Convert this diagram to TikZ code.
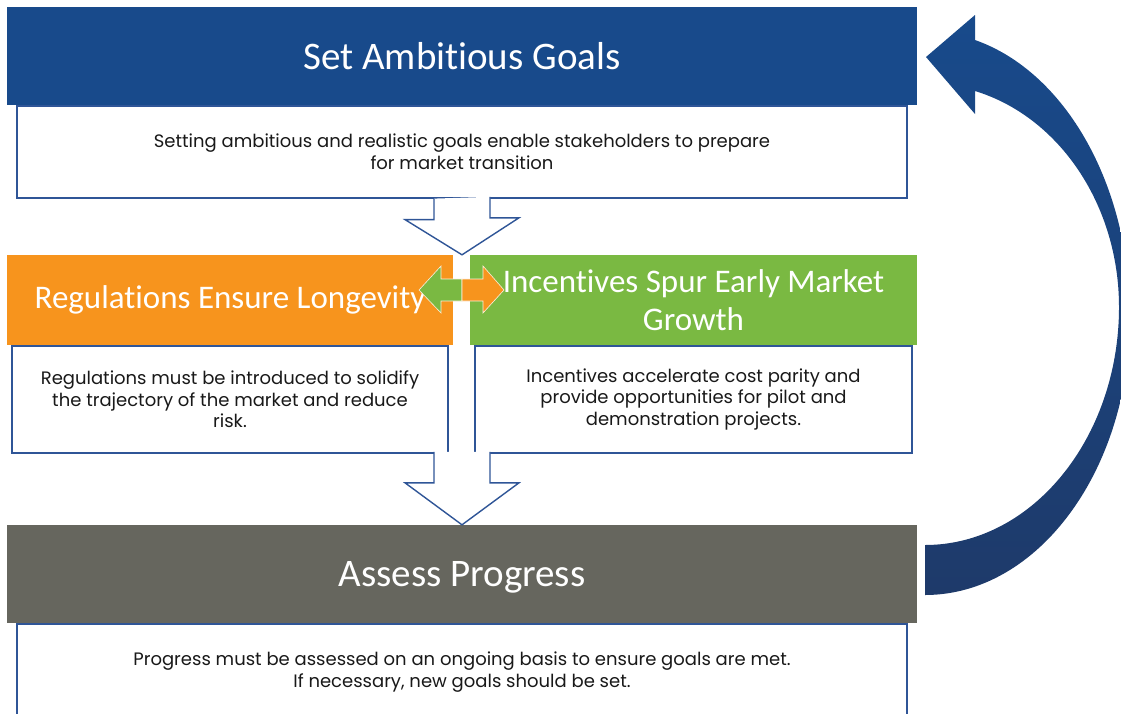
\documentclass[tikz,border=0pt]{standalone}
\usepackage{fontspec}
\setmainfont{Poppins}
\newfontfamily\hdrfont[Ligatures = NoCommon]{Carlito}
\usetikzlibrary{positioning,calc}
\definecolor{goalblue}{RGB}{24,74,139}
\definecolor{arcnavy}{RGB}{30,58,106}
\definecolor{regorange}{RGB}{247,148,29}
\definecolor{incgreen}{RGB}{122,185,66}
\definecolor{assessgray}{RGB}{102,102,94}
\definecolor{edgeblue}{RGB}{47,85,151}
\tikzset{
	header/.style = {rectangle, text = white, inner sep = 0pt, align = center, font = \hdrfont\fontsize{39}{44}\selectfont},
	subheader/.style = {header, minimum width = 446pt, minimum height = 90pt, font = \hdrfont\fontsize{33}{38}\selectfont},
	bodybox/.style = {draw = edgeblue, line width = 1.4pt, fill = white, align = center, inner sep = 0pt, text = black!90, font = \fontsize{18}{21.5}\selectfont},
	hollow/.style = {draw = edgeblue, line width = 1.4pt, fill = white, line join = miter},
	swap/.style = {draw = white!85!regorange, line width = 0.6pt}
}
\begin{document}
\begin{tikzpicture}[x = 1pt, y = -1pt]
	\useasboundingbox (0,0) rectangle (1121,713);
	\clip (0,0) rectangle (1121,713);

	\node (goals)[header, fill = goalblue, minimum width = 910pt, minimum height = 98pt] at (462,56) {Set Ambitious Goals};
	\node (goalsbody)[bodybox, anchor = north, minimum width = 890pt, minimum height = 92pt] at (goals.south) {
		Setting ambitious and realistic goals enable stakeholders to prepare\\
		for market transition};

	\node (reg)[subheader, fill = regorange] at (230,300) {Regulations Ensure Longevity};
	\node (inc)[subheader, fill = incgreen, minimum width = 447pt] at (693.5,300) {Incentives Spur Early Market\\Growth};
	\node (regbody)[bodybox, anchor = north, minimum width = 436pt, minimum height = 107pt] at (reg.south) {
		Regulations must be introduced to solidify\\
		the trajectory of the market and reduce\\
		risk.};
	\node (incbody)[bodybox, anchor = north, minimum width = 437pt, minimum height = 107pt] at (inc.south) {
		Incentives accelerate cost parity and\\
		provide opportunities for pilot and\\
		demonstration projects.};

	\node (assess)[header, fill = assessgray, minimum width = 910pt, minimum height = 98pt, text depth = 0pt] at (462,574) {Assess Progress};
	\node (assessbody)[bodybox, anchor = north, minimum width = 890pt, minimum height = 96pt] at (assess.south) {
		Progress must be assessed on an ongoing basis to ensure goals are met.\\
		If necessary, new goals should be set.};

	\draw [hollow]($(goalsbody.south)+(-28,0)$) -- ++(0,21) -- ++(-29,0) -- (goalsbody.south |- reg.north) -- ++(57,-37) -- ++(-29,0) -- ++(0,-21);
	\draw [hollow]($(assess.north)+(-28,-73)$) -- ++(0,31) -- ++(-29,0) -- (assess.north) -- ++(57,-42) -- ++(-29,0) -- ++(0,-31);

	\coordinate (mid) at (462,290);
	\filldraw [swap, fill = incgreen](mid) ++(0,-11) -- ++(-21,0) -- ++(0,-13) -- ++(-22,24) -- ++(22,23) -- ++(0,-12) -- ++(21,0) -- cycle;
	\filldraw [swap, fill = regorange](mid) ++(0,-11) -- ++(21,0) -- ++(0,-13) -- ++(21,24) -- ++(-21,23) -- ++(0,-12) -- ++(-21,0) -- cycle;

	\shade [top color = goalblue, bottom color = arcnavy](925,595) -- (925,545) .. controls (1032,545) and (1119,438) .. (1119,307) .. controls (1119,206) and (1060,117) .. (975,91) -- (975,114) -- (926,57) -- (975,15) -- (975,40) .. controls (1066,72) and (1130,186) .. (1130,317) .. controls (1130,470) and (1038,595) .. (925,595) -- cycle;
\end{tikzpicture}
\end{document}
